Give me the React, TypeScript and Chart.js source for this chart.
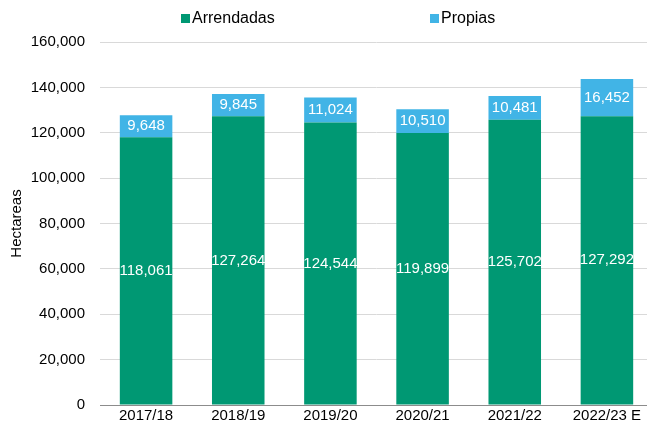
import React, { useEffect, useRef } from "react";
import { Chart, registerables } from "chart.js";

Chart.register(...registerables);

const categories = ["2017/18", "2018/19", "2019/20", "2020/21", "2021/22", "2022/23 E"];
const arrendadas = [118061, 127264, 124544, 119899, 125702, 127292];
const propias = [9648, 9845, 11024, 10510, 10481, 16452];
const yTicks = [0, 20000, 40000, 60000, 80000, 100000, 120000, 140000, 160000];

const GREEN = "#009873";
const BLUE = "#41b4e6";
const FONT = "'Liberation Sans', Arial, sans-serif";

const fmt = (v: number) => v.toLocaleString("en-US");

const labelPlugin = {
  id: "segLabels",
  afterDatasetsDraw(chart: any) {
    const ctx = chart.ctx;
    ctx.save();
    ctx.fillStyle = "#ffffff";
    ctx.font = `15px ${FONT}`;
    ctx.textAlign = "center";
    ctx.textBaseline = "middle";
    chart.data.datasets.forEach((ds: any, di: number) => {
      const meta = chart.getDatasetMeta(di);
      meta.data.forEach((el: any, i: number) => {
        const y = (el.y + el.base) / 2;
        ctx.fillText(fmt(ds.data[i]), el.x, y);
      });
    });
    ctx.restore();
  },
};

export default function App() {
  const ref = useRef<HTMLCanvasElement | null>(null);
  useEffect(() => {
    document.body.style.margin = "0";
    document.body.style.overflow = "hidden";
    const chart = new Chart(ref.current as HTMLCanvasElement, {
      type: "bar",
      data: {
        labels: categories,
        datasets: [
          { label: "Arrendadas", data: arrendadas, backgroundColor: GREEN, barPercentage: 0.57, categoryPercentage: 1 },
          { label: "Propias", data: propias, backgroundColor: BLUE, barPercentage: 0.57, categoryPercentage: 1 },
        ],
      },
      options: {
        animation: false,
        responsive: false,
        maintainAspectRatio: false,
        layout: { padding: { top: 42, right: 3, bottom: 1, left: 6 } },
        plugins: { legend: { display: false }, tooltip: { enabled: false } },
        scales: {
          x: {
            stacked: true,
            grid: { display: false, drawTicks: false },
            border: { color: "#8c8c8c", width: 1 },
            ticks: { color: "#000", font: { family: FONT, size: 15 }, padding: 2 },
          },
          y: {
            stacked: true,
            min: 0,
            max: 160000,
            afterBuildTicks: (axis: any) => {
              axis.ticks = yTicks.map((v) => ({ value: v }));
            },
            afterFit: (axis: any) => {
              axis.width = 94;
            },
            grid: { color: "#d9d9d9", drawTicks: false },
            border: { display: false },
            ticks: {
              color: "#000",
              font: { family: FONT, size: 15 },
              padding: 15,
              callback: (v: any) => fmt(Number(v)),
            },
            title: {
              display: true,
              text: "Hectareas",
              color: "#000",
              font: { family: FONT, size: 15 },
              padding: { top: 2, bottom: 0 },
            },
          },
        },
      },
      plugins: [labelPlugin],
    });
    return () => chart.destroy();
  }, []);

  const legendText: React.CSSProperties = {
    position: "absolute",
    top: 9,
    fontFamily: FONT,
    fontSize: 16,
    color: "#000",
    display: "flex",
    alignItems: "center",
    lineHeight: "18px",
  };
  const box = (c: string): React.CSSProperties => ({ width: 9, height: 9, background: c, marginRight: 2 });

  return (
    <div style={{ position: "absolute", left: 0, top: 0, width: 656, height: 429 }}>
      <canvas ref={ref} width={656} height={429} style={{ display: "block" }} />
      <div style={{ ...legendText, left: 181 }}>
        <span style={box(GREEN)} />
        <span>Arrendadas</span>
      </div>
      <div style={{ ...legendText, left: 430 }}>
        <span style={box(BLUE)} />
        <span>Propias</span>
      </div>
    </div>
  );
}
